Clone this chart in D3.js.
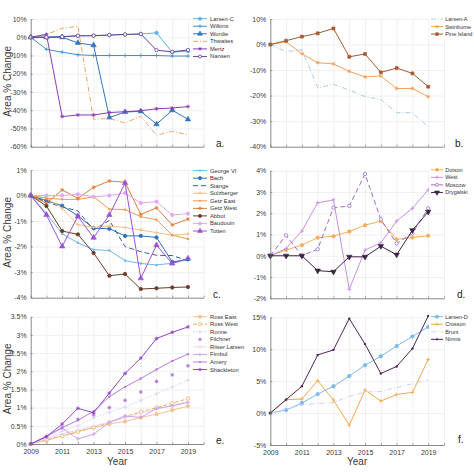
<!DOCTYPE html>
<html><head><meta charset="utf-8">
<script src="https://cdn.jsdelivr.net/npm/d3@7"></script>
<style>body{margin:0;background:#fff} svg{display:block;font-family:"Liberation Sans",Arial,sans-serif}</style>
</head><body><svg id="chart" width="474" height="474"></svg>
<script>
// ---------------- DATA ----------------
const years = [2009,2010,2011,2012,2013,2014,2015,2016,2017,2018,2019];
const gridYears = [2009,2010,2011,2012,2013,2014,2015,2016,2017,2018,2019,2020];
const xTickLabels = [2009,2011,2013,2015,2017,2019];

// panel a
const aNames = ["Larsen-C","Wilkins","Wordie","Thwaites","Mertz","Nansen"];
const aLarsenC = [0,0,0.3,0.8,1.0,1.2,1.5,1.8,2.4,-8.2,-7.6];
const aWilkins = [0,-6.6,-8.2,-9.6,-10.0,-10.0,-10.0,-10.0,-10.0,-10.3,-10.3];
const aWordie = [0,0,0,-3.1,-4.4,-44,-41,-40.6,-47.7,-40,-45];
const aThwaites = [0,1.5,4.9,6.0,-45,-44.5,-47,-43.3,-53.7,-51.5,-53.5];
const aMertz = [0,1.6,-43.5,-42.6,-42.6,-41.3,-40.8,-40.3,-39.2,-38.8,-38.0];
const aNansen = [0,0,0.3,0.8,0.8,1.2,1.5,1.8,-7.1,-8.0,-7.0];
const aTicks = [-60,-50,-40,-30,-20,-10,0,10];

// panel b
const bNames = ["Larsen-A","Swinburne","Pine Island"];
const bLarsenA = [0,-2.8,-2.0,-16.9,-15.6,-17.8,-20.4,-21.5,-26.7,-26.7,-32.2];
const bSwinburne = [0,1.1,-3.6,-7.1,-7.6,-10.5,-12.7,-12.3,-17.2,-17.2,-20.4];
const bPineIsland = [0,1.5,3.1,4.4,6.3,-4.8,-3.7,-10.9,-9.2,-11.3,-16.5];
const bTicks = [-40,-30,-20,-10,0,10];

// panel c
const cNames = ["George VI","Bach","Stange","Sulzberger","Getz East","Getz West","Abbot","Baudouin","Totten"];
const cGeorgeVI = [0,-0.7,-1.5,-1.85,-2.12,-2.15,-2.55,-2.66,-2.72,-2.65,-2.5];
const cBach = [0,-0.2,-0.4,-0.79,-1.28,-1.3,-1.58,-1.58,-1.64,-2.6,-2.5];
const cStange = [0,-0.25,-0.45,-0.6,-1.35,-0.97,-2.0,-2.2,-2.34,-2.35,-2.55];
const cSulzberger = [0,-0.1,-0.5,-1.14,-1.25,-1.2,-1.25,-1.35,-1.45,-1.55,-1.51];
const cGetzEast = [0,-0.1,-0.15,-0.15,-0.05,-0.53,-0.55,-0.83,-0.95,-1.55,-1.7];
const cGetzWest = [0,-0.3,0.22,-0.11,0.32,0.57,0.52,-0.74,-0.48,-1.15,-0.92];
const cAbbot = [0,-0.41,-1.39,-1.52,-2.25,-3.14,-3.07,-3.66,-3.63,-3.6,-3.58];
const cBaudouin = [0,0,0,0.05,-0.05,0,0.1,-0.29,-0.24,-0.76,-0.71];
const cTotten = [0,-0.76,-1.99,-0.82,-1.65,-0.76,0.49,-3.24,-1.94,-2.66,-2.46];
const cTicks = [-4,-3,-2,-1,0,1];

// panel d
const dNames = ["Dotson","West","Moscow","Drygalski"];
const dDotson = [0,0.27,0.5,0.85,0.92,1.14,1.44,1.63,0.77,0.86,0.94];
const dWest = [0,0.34,1.16,2.49,2.63,-1.58,0.27,0.61,1.63,2.23,3.1];
const dMoscow = [0,0.96,0,0.31,2.26,2.34,3.84,1.71,0.58,1.05,2.23];
const dDrygalski = [0,0,0,-0.7,-0.75,-0.05,-0.05,0.45,0.05,1.2,2.07];
const dTicks = [-2,-1,0,1,2,3,4];

// panel e
const eNames = ["Ross East","Ross West","Ronne","Filchner","Riiser Larsen","Fimbul","Amery","Shackleton"];
const eRossEast = [0,0.1,0.22,0.35,0.45,0.55,0.62,0.73,0.82,0.93,1.04];
const eRossWest = [0,0.12,0.22,0.33,0.46,0.59,0.75,0.89,1.0,1.12,1.25];
const eRonne = [0,0.15,0.35,0.5,0.72,0.87,1.02,1.2,1.38,1.57,1.75];
const eFilchner = [0,0.2,0.45,0.68,0.8,1.0,1.2,1.43,1.72,1.9,2.15];
const eRiiserLarsen = [0,0.15,0.28,0.38,0.5,0.6,0.72,0.85,0.95,1.05,1.18];
const eFimbul = [0,0.2,0.44,0.14,0.27,0.6,0.77,0.73,0.98,1.05,1.14];
const eAmery = [0,0.22,0.45,0.65,0.9,1.3,1.57,1.8,2.05,2.28,2.47];
const eShackleton = [0,0.2,0.55,0.98,0.86,1.4,1.94,2.36,2.9,3.07,3.22];
const eTicks = [0,0.5,1,1.5,2,2.5,3,3.5];

// panel f
const fNames = ["Larsen-D","Crosson","Brunt","Ninnis"];
const fLarsenD = [0,0.47,1.57,2.97,4.2,5.8,7.5,8.9,10.5,12.0,13.5];
const fCrosson = [0,2.1,2.2,5.07,2.04,-1.9,3.6,1.88,2.9,3.24,8.4];
const fBrunt = [0,0.6,1.25,1.5,1.65,2.6,3.3,3.4,4.0,4.6,5.2];
const fNinnis = [0,2.1,4.2,9.1,9.9,14.8,10.8,6.2,7.3,10.1,15.2];
const fTicks = [-5,0,5,10,15];

// ---------------- LAYOUT / STYLE ----------------
const svg = d3.select("#chart");
const cols = [{x0:30.7, x1:203.7, legLine:[193,207], legText:210, legBg:[191,236], legFont:5.8},
              {x0:270.3, x1:444, legLine:[431,443], legText:445.2, legBg:[429,474], legFont:5.5}];

const panels = [
 {col:0, top:19, bottom:146.7, domain:[-60,10], ticks:aTicks, names:aNames,
  data:[aLarsenC,aWilkins,aWordie,aThwaites,aMertz,aNansen],
  styles:[{c:"#5cb3e8",m:"circle",f:true},{c:"#3f8ed2",m:"plus"},{c:"#2f76bf",m:"tri",f:true},
          {c:"#eaa66a",dash:"5,2,1,2",m:"none"},{c:"#8a3db3",m:"star"},{c:"#6e3d92",m:"circle",f:false}],
  showX:false, yTitle:true, legY:18.7, lab:"a.", labPos:[216,146.5]},
 {col:1, top:19, bottom:146.7, domain:[-40,10], ticks:bTicks, names:bNames,
  data:[bLarsenA,bSwinburne,bPineIsland],
  styles:[{c:"#a9ccee",dash:"5,2,1,2",m:"none"},{c:"#f2a25a",m:"star"},{c:"#a55b32",m:"square",f:true}],
  showX:false, yTitle:false, legY:19, lab:"b.", labPos:[455,146.5]},
 {col:0, top:170, bottom:297.7, domain:[-4,1], ticks:cTicks, names:cNames,
  data:[cGeorgeVI,cBach,cStange,cSulzberger,cGetzEast,cGetzWest,cAbbot,cBaudouin,cTotten],
  styles:[{c:"#6cb7ea",m:"dot"},{c:"#2f6fb2",m:"circle",f:true},{c:"#385f90",dash:"5,3",m:"none"},
          {c:"#f6bd88",m:"plus"},{c:"#f29a4c",m:"dot"},{c:"#e07b35",m:"star"},
          {c:"#6c3b2b",m:"circle",f:true},{c:"#e2a9f1",m:"circle",f:true},{c:"#9a52d6",m:"tri",f:true}],
  showX:false, yTitle:true, legY:170.6, lab:"c.", labPos:[213,297.7]},
 {col:1, top:170.7, bottom:298.3, domain:[-2,4], ticks:dTicks, names:dNames,
  data:[dDotson,dWest,dMoscow,dDrygalski],
  styles:[{c:"#f5ad5c",m:"circle",f:true},{c:"#c88fe6",m:"plus"},{c:"#9b6cc8",dash:"5,3",m:"circle",f:false},
          {c:"#3b2142",m:"trid",f:true}],
  showX:false, yTitle:false, legY:169.8, lab:"d.", labPos:[457,297.7]},
 {col:0, top:316.7, bottom:444, domain:[0,3.5], ticks:eTicks, names:eNames,
  data:[eRossEast,eRossWest,eRonne,eFilchner,eRiiserLarsen,eFimbul,eAmery,eShackleton],
  styles:[{c:"#f6c290",m:"circle",f:true},{c:"#f1b35e",dash:"4,2",m:"circle",f:false},
          {c:"#dcd1f2",dash:"1.5,1.5",m:"plus"},{c:"#a86ad8",m:"star",noline:true},
          {c:"#e8d8f5",m:"plus"},{c:"#cba2eb",m:"plus"},{c:"#b97ae0",m:"dot"},{c:"#9147c8",m:"star"}],
  showX:true, yTitle:true, legY:316.7, lab:"e.", labPos:[216,444]},
 {col:1, top:317.3, bottom:445, domain:[-5,15], ticks:fTicks, names:fNames,
  data:[fLarsenD,fCrosson,fBrunt,fNinnis],
  styles:[{c:"#7cb9ea",m:"circle",f:true},{c:"#f0a94e",m:"plus"},{c:"#d6cdf3",dash:"5,2,1,2",m:"none"},
          {c:"#4e2458",m:"dot"}],
  showX:true, yTitle:false, legY:316.7, lab:"f.", labPos:[458,442.7]}
];

function marker(g, type, cx, cy, color, fill, sc) {
  sc = sc || 1;
  if (type === "none") return;
  if (type === "circle") {
    g.append("circle").attr("cx",cx).attr("cy",cy).attr("r",1.7*sc)
      .attr("fill", fill ? color : "#fff").attr("stroke",color).attr("stroke-width",0.8);
  } else if (type === "dot") {
    g.append("circle").attr("cx",cx).attr("cy",cy).attr("r",1.2*sc).attr("fill",color);
  } else if (type === "plus") {
    const s = 2*sc;
    g.append("path").attr("d",`M${cx-s},${cy}H${cx+s}M${cx},${cy-s}V${cy+s}`)
      .attr("stroke",color).attr("stroke-width",0.8).attr("fill","none");
  } else if (type === "star") {
    const s = 1.9*sc, t = 1.35*sc;
    g.append("path").attr("d",`M${cx-s},${cy}H${cx+s}M${cx},${cy-s}V${cy+s}M${cx-t},${cy-t}L${cx+t},${cy+t}M${cx-t},${cy+t}L${cx+t},${cy-t}`)
      .attr("stroke",color).attr("stroke-width",0.8).attr("fill","none");
  } else if (type === "tri" || type === "trid" || type === "square") {
    const sym = type === "square" ? d3.symbolSquare : d3.symbolTriangle;
    const size = type === "square" ? 9*sc*sc : 13*sc*sc;
    g.append("path").attr("d", d3.symbol().type(sym).size(size)())
      .attr("transform", `translate(${cx},${cy})` + (type === "trid" ? " rotate(180)" : ""))
      .attr("fill", fill ? color : "#fff").attr("stroke",color).attr("stroke-width",0.6);
  }
}

const axisColor = "#6b6b6b", textColor = "#3a3a3a";

panels.forEach(p => {
  const col = cols[p.col];
  const x = d3.scaleLinear().domain([2009,2020]).range([col.x0, col.x1]);
  const y = d3.scaleLinear().domain(p.domain).range([p.bottom, p.top]);
  const g = svg.append("g");

  // grid
  g.append("g").attr("transform",`translate(0,${p.bottom})`)
    .call(d3.axisBottom(x).tickValues(gridYears.slice(1)).tickSize(-(p.bottom-p.top)).tickFormat(""))
    .call(s => { s.select(".domain").remove(); s.selectAll("line").attr("stroke","#e5e5e5").attr("stroke-width",0.6); });
  g.append("g").attr("transform",`translate(${col.x0},0)`)
    .call(d3.axisLeft(y).tickValues(p.ticks.filter(t => t !== p.domain[0])).tickSize(-(col.x1-col.x0)).tickFormat(""))
    .call(s => { s.select(".domain").remove(); s.selectAll("line").attr("stroke","#e5e5e5").attr("stroke-width",0.6); });

  // lines
  const line = d3.line().x((d,i) => x(years[i])).y(d => y(d));
  p.data.forEach((vals, k) => {
    const st = p.styles[k];
    if (!st.noline) {
      g.append("path").datum(vals).attr("d", line).attr("fill","none")
        .attr("stroke", st.c).attr("stroke-width", 1)
        .attr("stroke-dasharray", st.dash || null).attr("stroke-linejoin","round");
    }
    vals.forEach((v,i) => marker(g, st.m, x(years[i]), y(v), st.c, st.f));
  });

  // axes
  const ya = g.append("g").attr("transform",`translate(${col.x0},0)`)
    .call(d3.axisLeft(y).tickValues(p.ticks).tickSizeInner(-2).tickSizeOuter(0).tickPadding(4)
      .tickFormat(d => d + "%"));
  const xa = g.append("g").attr("transform",`translate(0,${p.bottom})`)
    .call(d3.axisBottom(x).tickValues(gridYears).tickSizeInner(-2).tickSizeOuter(0).tickPadding(5.5)
      .tickFormat(d => (p.showX && xTickLabels.includes(d)) ? String(d) : ""));
  [ya, xa].forEach(a => {
    a.select(".domain").attr("stroke", axisColor).attr("stroke-width", 0.8);
    a.selectAll(".tick line").attr("stroke", axisColor).attr("stroke-width", 0.6);
    a.selectAll("text").attr("fill", textColor).attr("font-size", 7)
      .attr("font-family", '"Liberation Sans",Arial,sans-serif');
  });

  if (p.showX) {
    g.append("text").attr("x", (col.x0+col.x1)/2).attr("y", 464.5).attr("text-anchor","middle")
      .attr("font-size", 10).attr("fill", textColor).text("Year");
  }
  if (p.yTitle) {
    g.append("text").attr("transform", `translate(11,${(p.top+p.bottom)/2 - 1.5}) rotate(-90)`)
      .attr("text-anchor","middle").attr("font-size",10).attr("fill",textColor).text("Area % Change");
  }

  // legend
  const lg = svg.append("g");
  const step = 7.55;
  lg.append("rect").attr("x", col.legBg[0]).attr("y", p.legY - 4.5)
    .attr("width", col.legBg[1]-col.legBg[0]).attr("height", step*(p.names.length-1) + 9).attr("fill","#fff");
  p.names.forEach((n,k) => {
    const st = p.styles[k];
    const ly = p.legY + k*step;
    if (!st.noline) {
      lg.append("line").attr("x1", col.legLine[0]).attr("x2", col.legLine[1]).attr("y1", ly).attr("y2", ly)
        .attr("stroke", st.c).attr("stroke-width", 1).attr("stroke-dasharray", st.dash || null);
    }
    marker(lg, st.m, (col.legLine[0]+col.legLine[1])/2, ly, st.c, st.f, 0.9);
    lg.append("text").attr("x", col.legText).attr("y", ly + 2).attr("font-size", col.legFont)
      .attr("fill", "#333").text(n);
  });

  // panel label
  svg.append("text").attr("x", p.labPos[0]).attr("y", p.labPos[1]).attr("font-size", 10)
    .attr("fill", "#222").text(p.lab);
});
</script></body></html>
